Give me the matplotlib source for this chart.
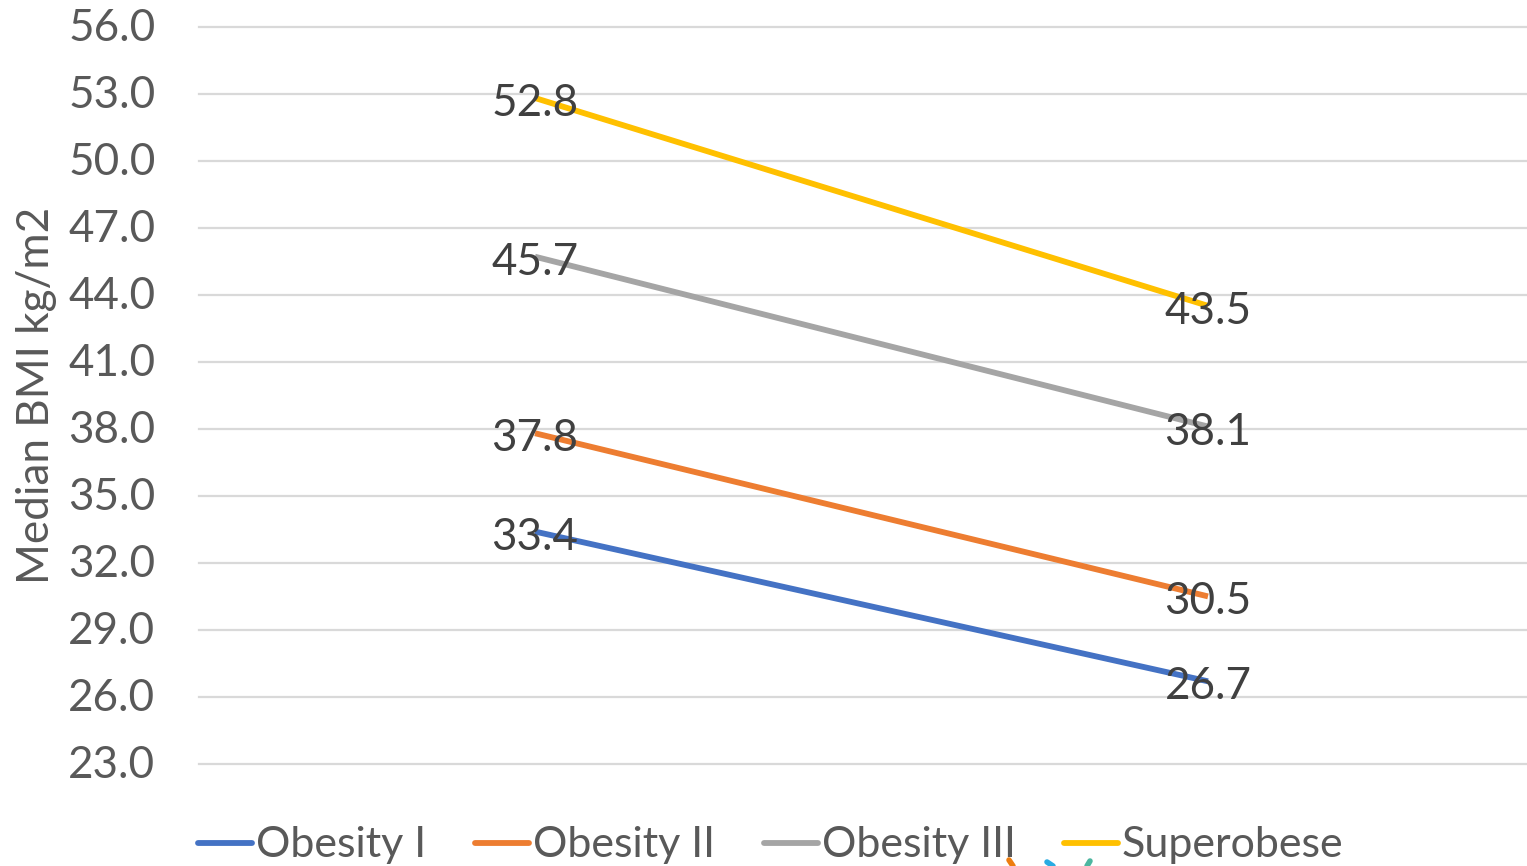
import numpy as np
import matplotlib.pyplot as plt
from matplotlib.transforms import ScaledTranslation

plt.rcParams['font.family'] = ['Lato', 'DejaVu Sans']

x_pos = [0, 1]
obesity_1 = [33.4, 26.7]
obesity_2 = [37.8, 30.5]
obesity_3 = [45.7, 38.1]
superobese = [52.8, 43.5]
series_names = ['Obesity I', 'Obesity II', 'Obesity III', 'Superobese']
series_colors = ['#4472C4', '#ED7D31', '#A5A5A5', '#FFC000']
series_values = [obesity_1, obesity_2, obesity_3, superobese]
y_ticks = np.arange(23, 57, 3)

W, H = 1527, 866
FS = 31.7
fig = plt.figure(figsize=(W / 100, H / 100), dpi=100)
ax = fig.add_axes([198.5 / W, 1 - 764 / H, (1527 - 198.5) / W, (764 - 26.5) / H])

for name, col, vals in zip(series_names, series_colors, series_values):
    ax.plot(x_pos, vals, color=col, lw=4.2, solid_capstyle='butt', zorder=3)
    for xp, v in zip(x_pos, vals):
        ax.text(xp, v - 0.25, '%.1f' % v, ha='center', va='center', fontsize=FS,
                color='#404040', zorder=4)

ax.set_ylim(23, 56)
# two categories, line points sit at the middle of each band
ax.set_xlim((198.5 - 535) / (1208 - 535), (1527 - 535) / (1208 - 535))
ax.set_yticks(y_ticks)
ax.set_yticklabels(['%.1f' % t for t in y_ticks], fontsize=FS, color='#595959')
ax.set_xticks([])
ax.tick_params(axis='y', length=0, pad=31)
shift_up = ScaledTranslation(0, 2 / 100, fig.dpi_scale_trans)
for lab in ax.get_yticklabels():
    lab.set_transform(lab.get_transform() + shift_up)
ax.grid(axis='y', color='#D9D9D9', lw=1.6, clip_on=False)
ax.set_axisbelow(True)
for s in ax.spines.values():
    s.set_visible(False)
fig.text(37 / W, 1 - 395 / H, 'Median BMI kg/m2', rotation=90, ha='center', va='center',
         fontsize=FS, color='#595959')

# legend
leg_line = [(198, 252), (475, 529), (764, 818), (1064, 1118)]
leg_text = [256, 533, 822, 1122]
for (x0, x1), tx, name, col in zip(leg_line, leg_text, series_names, series_colors):
    fig.add_artist(plt.Line2D([x0 / W, x1 / W], [1 - 843 / H] * 2, color=col, lw=4.2,
                              solid_capstyle='round', transform=fig.transFigure))
    fig.text(tx / W, 1 - 845 / H, name, ha='left', va='center', fontsize=31, color='#595959')

# bits of a cropped logo at the bottom edge
for xs, ys, col in [((1009, 1013), (860, 866), '#ED7D0F'),
                    ((1047, 1053), (862, 866), '#29ABE2'),
                    ((1090, 1087), (861, 866), '#4DB6A0')]:
    fig.add_artist(plt.Line2D([x / W for x in xs], [1 - y / H for y in ys], color=col, lw=4,
                              solid_capstyle='round', transform=fig.transFigure))

fig.savefig('out.png', dpi=100)
